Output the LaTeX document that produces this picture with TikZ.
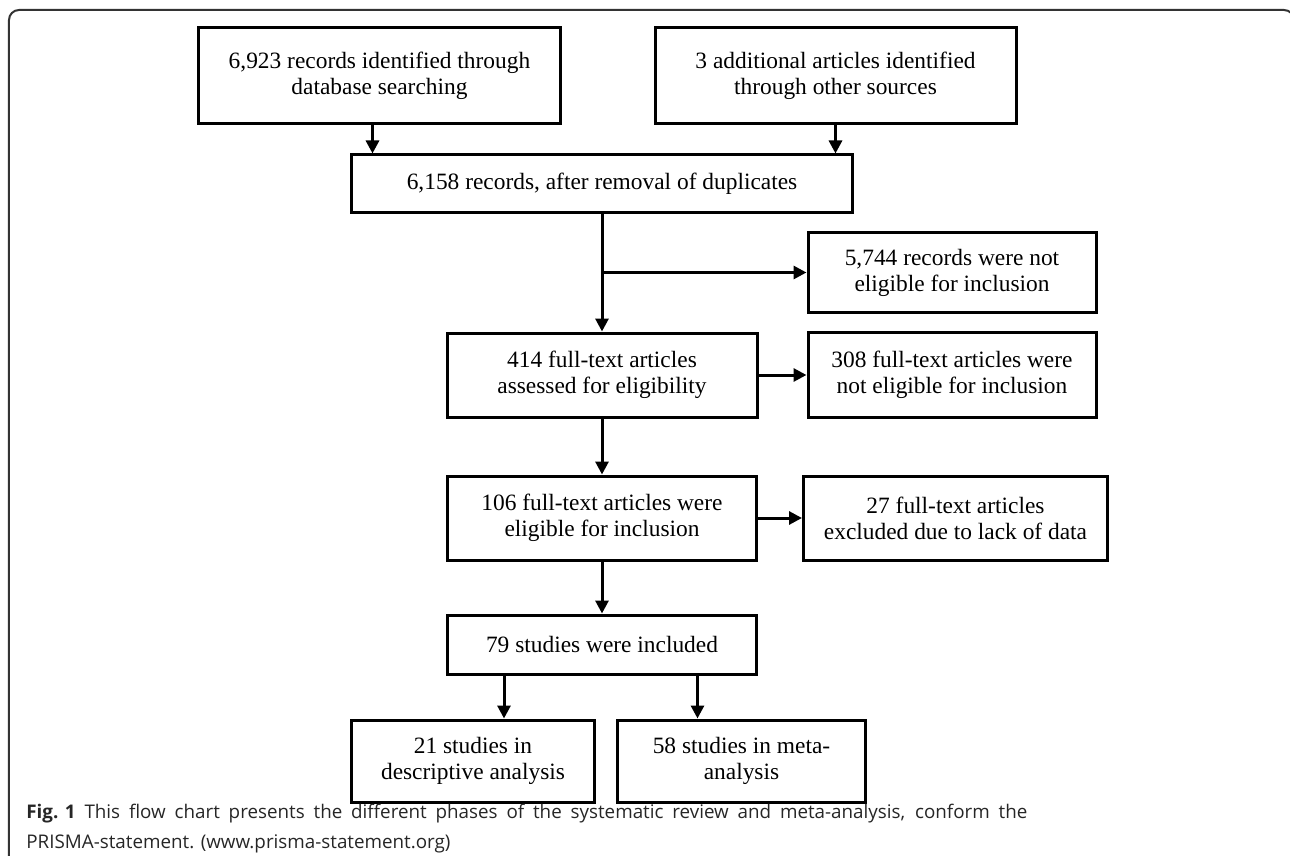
\documentclass[tikz,border=0pt]{standalone}
\usepackage{fontspec}
\setmainfont{Liberation Serif}
\newfontfamily\capfont{Open Sans}
\usepackage{tikz}
\usetikzlibrary{positioning, arrows.meta}

\begin{document}
\begin{tikzpicture}[x=1pt, y=1pt, node distance={14pt},
		box/.style = {draw, line width=1.5pt, align=center, inner sep=0pt, font=\fontsize{11.7}{13}\selectfont},
		arr/.style = {line width=1.5pt, -{Triangle[length=6.5pt,width=6.5pt]}}]
		\useasboundingbox (-189.75,-390) rectangle (455.25,38);
		\draw[line width=1pt, rounded corners=5pt, black!80] (-185.25,-395) -- (-185.25,33) -- (457.25,33) -- (457.25,-395);
		\node[box, minimum width=180.5pt, minimum height=48pt] (rec) at (0,0) {6,923 records identified through\\database searching};
		\node[box, minimum width=180.5pt, minimum height=48pt] (add) [right=46pt of rec] {3 additional articles identified\\through other sources};
		\node[box, minimum width=250pt, minimum height=29pt] (dup) [below=14pt of rec, xshift=111.25pt] {6,158 records, after removal of duplicates};
		\node[box, minimum width=155pt, minimum height=42pt] (full) [below=58.5pt of dup] {414 full-text articles\\assessed for eligibility};
		\node[box, minimum width=144pt, minimum height=42.5pt] (excl) [right=24pt of full] {308 full-text articles were\\not eligible for inclusion};
		\node[box, minimum width=144pt, minimum height=40pt] (notel) [above=8.5pt of excl] {5,744 records were not\\eligible for inclusion};
		\node[box, minimum width=154.5pt, minimum height=42pt] (elig) [below=28pt of full] {106 full-text articles were\\eligible for inclusion};
		\node[box, minimum width=152pt, minimum height=42pt] (lack) [right=22pt of elig] {27 full-text articles\\excluded due to lack of data};
		\node[box, minimum width=154.5pt, minimum height=29.5pt] (inc) [below=26pt of elig] {79 studies were included};
		\node[box, minimum width=121.5pt, minimum height=41pt] (desc) [below=21.5pt of inc, xshift=-64.5pt] {21 studies in\\descriptive analysis};
		\node[box, minimum width=124pt, minimum height=41pt] (meta) [right=10pt of desc] {58 studies in meta-\\analysis};
		\coordinate (split) at (dup.south |- notel.west);
		\draw[arr] ([xshift=-3.5pt]rec.south) -- ([xshift=-3.5pt]rec.south |- dup.north);
		\draw[arr] (add.south) -- (add.south |- dup.north);
		\draw[arr] (dup) -- (full);
		\draw[arr] (split) -- (notel);
		\draw[arr] (full) -- (excl);
		\draw[arr] (full) -- (elig);
		\draw[arr] (elig) -- (lack);
		\draw[arr] (elig) -- (inc);
		\draw[arr] ([xshift=-49pt]inc.south) -- ([xshift=-49pt]inc.south |- desc.north);
		\draw[arr] ([xshift=47.75pt]inc.south) -- ([xshift=47.75pt]inc.south |- meta.north);
		\node[anchor=base west, align=left, inner sep=0pt, text=black!85, font=\capfont\fontsize{9.4}{15}\selectfont] (cap) at (-176.75,-386) {\makebox[500.5pt][s]{\textbf{\mbox{Fig. 1}} This flow chart presents the different phases of the systematic review and meta-analysis, conform the}\\PRISMA-statement. (www.prisma-statement.org)};
\end{tikzpicture}
\end{document}
